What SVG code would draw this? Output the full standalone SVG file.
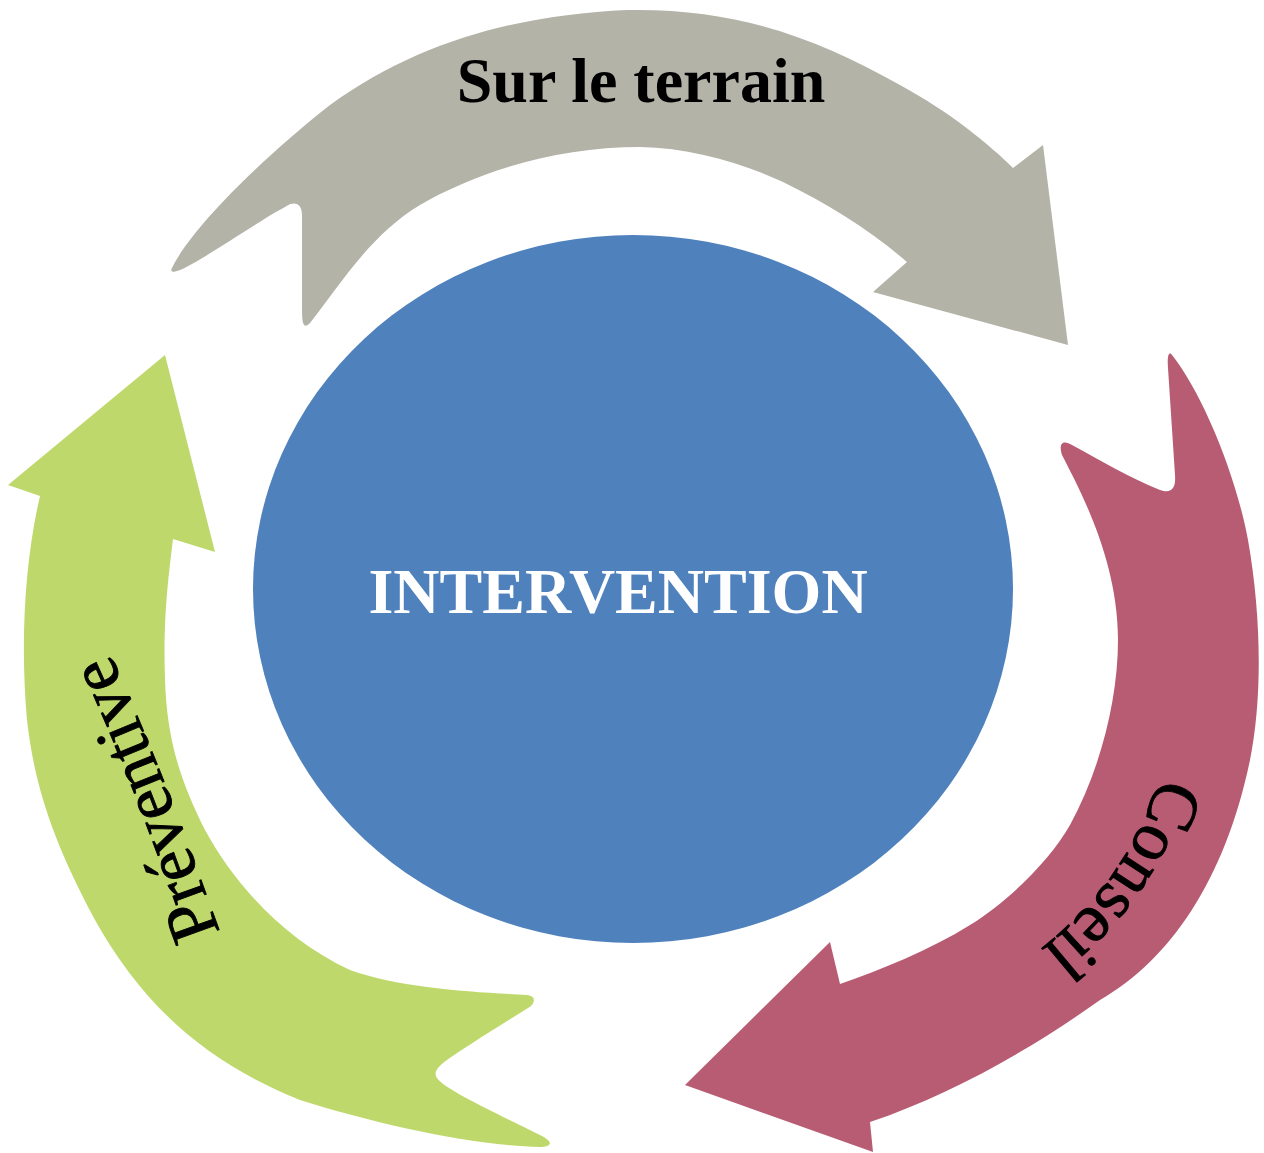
<svg xmlns="http://www.w3.org/2000/svg" width="1264" height="1153" viewBox="0 0 1264 1153">
  <style>
    .lbl { font-family: "Liberation Serif", "Times New Roman", serif; fill: #000000; }
    .bold { font-weight: bold; }
    .arc { stroke: #000000; stroke-width: 0.9; }
  </style>
  <defs>
    <path id="pPrev" d="M220,932 C188,845 158,755 92,615"/>
    <path id="pCons" d="M1160,776 C1135,853 1098,905 1033,955"/>
  </defs>
  <rect width="1264" height="1153" fill="#FFFFFF"/>

  <g id="connectors">
    <g id="arrow-sur-le-terrain">
      <path fill="#B3B3A8" d="M172,268 C190,230 260,160 330,105 C420,40 520,15 627,10 C740,8 820,40 900,85 C950,112 990,145 1013,168 L1043,145 L1068,345 L873,292 L907,262 C870,230 830,205 783,182 C740,162 690,148 640,147 C560,147 480,170 420,205 C370,235 340,285 310,323 C302,331 302,320 302,305 L302,215 C302,204 295,200 285,207 C260,220 200,262 180,270 C172,273 170,272 172,268 Z"/>
      <text class="lbl bold" x="641" y="102" font-size="64" text-anchor="middle">Sur le terrain</text>
    </g>
    <g id="arrow-conseil">
      <path fill="#B85C74" d="M1172,355 C1200,390 1235,470 1248,540 C1262,620 1262,700 1250,760 C1225,880 1170,960 1100,1000 C1030,1050 950,1095 870,1122 L873,1152 L685,1085 L830,942 L840,984 C880,970 930,950 970,925 C1010,900 1050,860 1070,825 C1100,770 1118,700 1118,640 C1118,560 1080,490 1062,455 C1058,442 1064,440 1072,445 C1100,460 1130,478 1160,490 C1172,494 1176,488 1175,475 L1168,368 C1167,355 1169,351 1172,355 Z"/>
      <text class="lbl arc" font-size="70"><textPath href="#pCons">Conseil</textPath></text>
    </g>
    <g id="arrow-preventive">
      <path fill="#BED86C" d="M165,355 L215,552 L173,539 C168,580 163,620 165,680 C167,740 180,780 205,830 C235,885 285,940 350,970 C400,988 470,992 527,995 C537,996 535,1004 528,1008 L480,1038 C450,1058 430,1068 437,1078 C445,1090 500,1115 540,1135 C556,1143 550,1147 540,1147 C470,1145 380,1125 300,1100 C200,1060 140,1000 95,920 C55,845 35,790 27,720 C20,640 25,560 40,496 L8,485 Z"/>
      <text class="lbl arc" font-size="70"><textPath href="#pPrev">Préventive</textPath></text>
    </g>
  </g>

  <g id="node-intervention">
    <ellipse cx="633" cy="589" rx="380" ry="354" fill="#4F81BD"/>
    <text class="lbl bold" x="618" y="613" font-size="64" text-anchor="middle" style="fill:#FFFFFF">INTERVENTION</text>
  </g>
</svg>
